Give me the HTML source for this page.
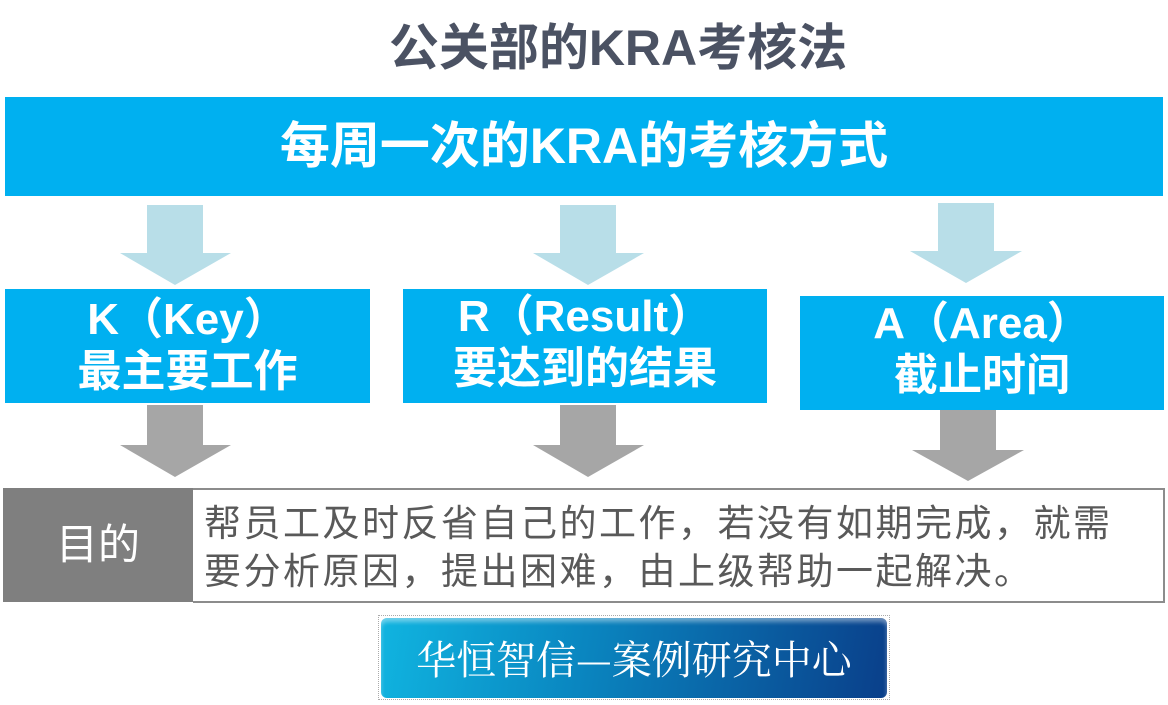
<!DOCTYPE html>
<html><head><meta charset="utf-8"><style>
body{margin:0;width:1168px;height:705px;background:#fff;position:relative;overflow:hidden;font-family:"Liberation Sans","Noto Sans CJK SC",sans-serif}
.a{position:absolute}
.blue{background:#00b0f0;color:#fff;font-weight:bold;text-align:center}
</style></head><body>
<div class="a" style="left:0;width:1236px;top:16px;text-align:center;font-size:50px;font-weight:bold;color:#4b5263;line-height:64px">公关部的KRA考核法</div>
<div class="a blue" style="left:5px;top:97px;width:1158px;height:99px;font-size:50px;line-height:99px;">每周一次的KRA的考核方式</div>
<svg class="a" style="left:0;top:0" width="1168" height="705">
<g fill="#b8dee8">
<polygon points="147,205 203,205 203,253 231,253 175,285 120,253 147,253"/>
<polygon points="560,205 616,205 616,253 644,253 588,285 533,253 560,253"/>
<polygon points="938,203 994,203 994,251 1022,251 966,283 910,251 938,251"/>
</g>
<g fill="#a6a6a6">
<polygon points="147,405 203,405 203,445 231,445 175,477 120,445 147,445"/>
<polygon points="560,405 616,405 616,445 644,445 588,477 533,445 560,445"/>
<polygon points="940,410 996,410 996,450 1024,450 968,481 912,450 940,450"/>
</g>
</svg>
<div class="a blue" style="left:5px;top:289px;width:365px;height:114px;font-size:44px;line-height:52px;padding-top:5px;box-sizing:border-box">K（Key）<br>最主要工作</div>
<div class="a blue" style="left:403px;top:289px;width:364px;height:114px;font-size:44px;line-height:52px;padding-top:2px;box-sizing:border-box">R（Result）<br>要达到的结果</div>
<div class="a blue" style="left:800px;top:296px;width:364px;height:114px;font-size:44px;line-height:52px;padding-top:2px;box-sizing:border-box">A（Area）<br>截止时间</div>
<div class="a" style="left:3px;top:488px;width:190px;height:114px;background:#7f7f7f;color:#fff;font-size:42px;line-height:114px;text-align:center">目的</div>
<div class="a" style="left:193px;top:488px;width:972px;height:115px;border:2px solid #8c8c8c;border-left:none;color:#595959;font-size:37px;line-height:48px;letter-spacing:2.5px;padding:10px 0 0 11px;box-sizing:border-box;white-space:nowrap">帮员工及时反省自己的工作，若没有如期完成，就需<br>要分析原因，提出困难，由上级帮助一起解决。</div>
<div class="a" style="left:378px;top:615px;width:512px;height:85px;border:1px dotted #aaa;box-sizing:border-box"></div>
<div class="a" style="left:381px;top:618px;width:506px;height:80px;border-radius:6px;background:linear-gradient(100deg,#10b4e0 0%,#0a86c0 40%,#0a3f8a 100%);box-shadow:inset 0 4px 4px rgba(255,255,255,.4);color:#fff;font-family:'Noto Serif CJK SC',serif;font-size:40px;line-height:80px;text-align:center">华恒智信—案例研究中心</div>
</body></html>
